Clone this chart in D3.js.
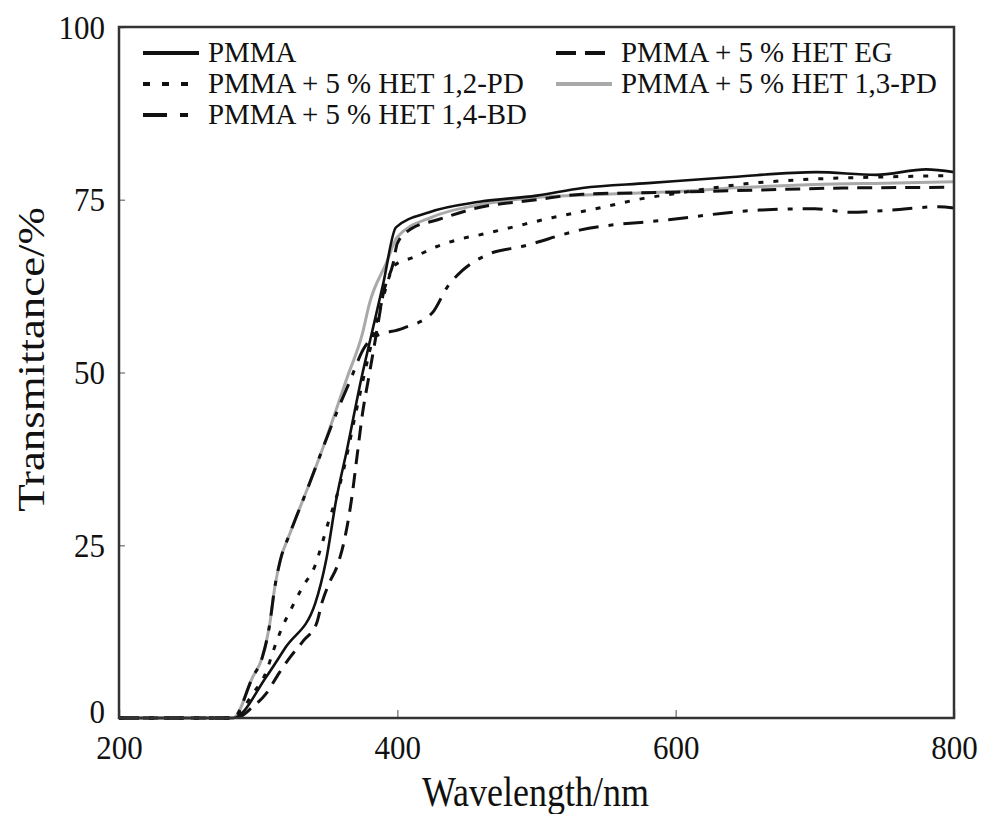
<!DOCTYPE html>
<html>
<head>
<meta charset="utf-8">
<script src="https://cdn.jsdelivr.net/npm/d3@7"></script>
<style>
  body { margin: 0; background: #fff; }
  text { font-family: "Liberation Serif", "Times New Roman", serif; fill: #111; }
</style>
</head>
<body>
<svg id="chart" width="984" height="814"></svg>
<script>
// values: [wavelength nm, transmittance %]
const pmma = [[200,0],[282,0],[306,6],[320,10.3],[341,16.6],[349,23],[356,31.5],[364,39],[374,49],[382,56],[390,63],[399,71],
    [423,73.2],[459,74.7],[500,75.6],[533,76.7],[580,77.4],[641,78.3],[701,79],[744,78.6],[780,79.4],[800,79]];
const pd12 = [[200,0],[282,0],[296,3.5],[306,6.8],[311,9.8],[317,13],[324,15.9],[332,19],[341,22.1],[346,25.3],[351,28.7],[356,31.8],[361,35.6],
    [370,44],[380,53],[390,61],[398,65.5],[412,66.7],[428,68.2],[445,69.3],[461,70],[478,70.8],[511,72.4],[545,73.8],[577,75.2],
    [600,75.9],[650,77.3],[700,78],[750,78.3],[800,78.5]];
const pd13 = [[200,0],[282,0],[296,5.9],[303,8.8],[308,13.2],[312,19],[316,22.9],[323,26.8],[337,34],[346,38.8],[364,49.3],[375,55.7],
    [380,60],[392,65.8],[400,69.6],[425,72.5],[457,74.2],[504,75.4],[550,75.8],[600,76.2],[650,76.8],[700,77.2],[750,77.4],[800,77.6]];
const eg = [[200,0],[284,0],[296,1.6],[306,3.6],[315,6.5],[323,8.8],[333,11.3],[342,13.7],[346,16.8],[351,19.5],[357,22.1],[362,25.8],
    [367,31.5],[371,37.8],[375,44.1],[380,49.9],[385,55.7],[390,61.5],[397,65.8],[400,68.7],[410,70.8],[429,72.1],[457,73.8],
    [500,75],[533,75.8],[600,76.1],[658,76.4],[720,76.7],[800,76.8]];
const bd14 = [[200,0],[282,0],[296,5.9],[303,8.8],[308,13.2],[312,19],[316,22.9],[323,26.8],[337,34],[346,38.8],[357,44.5],[366,48.8],
    [376,53.5],[383,55.1],[404,56.4],[425,58.6],[436,62.4],[447,64.8],[464,67],[491,68.3],[531,70.6],[595,72.1],[660,73.5],
    [700,73.7],[725,73.2],[755,73.5],[789,74],[800,73.8]];

const seriesNames = ["PMMA", "PMMA + 5 % HET EG", "PMMA + 5 % HET 1,2-PD", "PMMA + 5 % HET 1,3-PD", "PMMA + 5 % HET 1,4-BD"];
const xTicks = [200, 400, 600, 800];
const yTicks = [0, 25, 50, 75, 100];

// original picture is stretched a little vertically, so text gets the same stretch
const stretch = "scale(1,1.12)";

const margin = { top: 27, right: 30, bottom: 96, left: 119 },
    width = 984 - margin.left - margin.right,
    height = 814 - margin.top - margin.bottom;

const svg = d3.select("#chart")
    .append("g")
    .attr("transform", `translate(${margin.left},${margin.top})`);

const x = d3.scaleLinear().domain([200, 800]).range([0, width]);
const y = d3.scaleLinear().domain([0, 100]).range([height, 0]);

const styles = {
    "PMMA": { data: pmma, color: "#111", dash: null },
    "PMMA + 5 % HET EG": { data: eg, color: "#111", dash: "15,9" },
    "PMMA + 5 % HET 1,2-PD": { data: pd12, color: "#111", dash: "5,10" },
    "PMMA + 5 % HET 1,3-PD": { data: pd13, color: "#a9a9a9", dash: null },
    "PMMA + 5 % HET 1,4-BD": { data: bd14, color: "#111", dash: "20,10,5,10" }
};

// axes with inside ticks
const xAxis = svg.append("g")
    .attr("transform", `translate(0,${height})`)
    .call(d3.axisBottom(x).tickValues(xTicks).tickSize(-8).tickPadding(21).tickFormat(d3.format("d")));
const yAxis = svg.append("g")
    .call(d3.axisLeft(y).tickValues(yTicks).tickSize(-6).tickPadding(14));

[xAxis, yAxis].forEach(a => {
    a.select(".domain").remove();
    a.selectAll(".tick line").attr("stroke", "#888").attr("stroke-width", 1.5);
    a.selectAll(".tick text")
        .style("font-family", "Liberation Serif")
        .style("font-size", "31px")
        .attr("fill", "#111")
        .attr("transform", stretch);
});
xAxis.selectAll(".tick text").attr("dy", "0.5em");
// keep the 0 and the 200 apart in the corner
yAxis.selectAll(".tick text").filter(d => d === 0).attr("dy", "0.12em");

// curves
const line = d3.line()
    .x(d => x(d[0]))
    .y(d => y(d[1]))
    .curve(d3.curveMonotoneX);

const drawOrder = ["PMMA + 5 % HET 1,3-PD", "PMMA + 5 % HET 1,4-BD", "PMMA + 5 % HET EG", "PMMA + 5 % HET 1,2-PD", "PMMA"];
drawOrder.forEach(name => {
    const s = styles[name];
    svg.append("path")
        .datum(s.data)
        .attr("fill", "none")
        .attr("stroke", s.color)
        .attr("stroke-width", name === "PMMA" ? 2.6 : 3)
        .attr("stroke-dasharray", s.dash)
        .attr("d", line);
});

// frame
svg.append("rect")
    .attr("x", 0).attr("y", 0)
    .attr("width", width).attr("height", height)
    .attr("fill", "none")
    .attr("stroke", "#333")
    .attr("stroke-width", 2.5);

// legend, two columns inside the frame
const legendPos = [[24, 26], [437, 26], [24, 57], [437, 57], [24, 88]];
const legendOrder = ["PMMA", "PMMA + 5 % HET EG", "PMMA + 5 % HET 1,2-PD", "PMMA + 5 % HET 1,3-PD", "PMMA + 5 % HET 1,4-BD"];
legendOrder.forEach((name, i) => {
    const s = styles[name];
    const g = svg.append("g").attr("transform", `translate(${legendPos[i][0]},${legendPos[i][1]})`);
    g.append("line")
        .attr("x1", 0).attr("x2", 56)
        .attr("stroke", s.color)
        .attr("stroke-width", 4)
        .attr("stroke-dasharray", name === "PMMA + 5 % HET EG" ? "20,9" :
            name === "PMMA + 5 % HET 1,2-PD" ? "7,12" :
            name === "PMMA + 5 % HET 1,4-BD" ? "24,13,8,12" : null);
    g.append("g").attr("transform", `translate(65,9) scale(1.07,1.1)`)
        .append("text")
        .style("font-size", "27px")
        .text(name);
});

// axis titles
svg.append("g")
    .attr("transform", `translate(${width / 2 - 1},${height + 88}) scale(1,1.15)`)
    .append("text")
    .attr("text-anchor", "middle")
    .style("font-size", "36px")
    .text("Wavelength/nm");

svg.append("g")
    .attr("transform", `translate(${-margin.left + 44},${height / 2 - 13}) rotate(-90) scale(1.15,1)`)
    .append("text")
    .attr("text-anchor", "middle")
    .style("font-size", "39px")
    .text("Transmittance/%");
</script>
</body>
</html>
